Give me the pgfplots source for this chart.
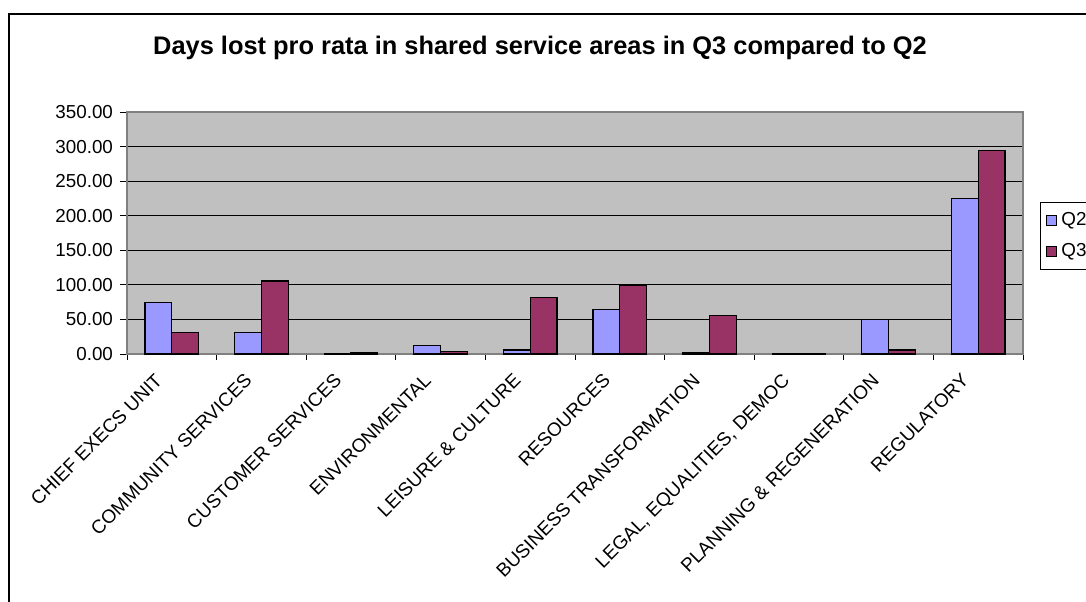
\documentclass[border=0pt]{standalone}
\usepackage{fontspec}
\setmainfont{Liberation Sans}
\usepackage{pgfplots}
\pgfplotsset{compat=1.18}
\definecolor{qtwo}{HTML}{9999FF}
\definecolor{qthree}{HTML}{993366}
\definecolor{plotbg}{HTML}{C0C0C0}
\definecolor{frameg}{HTML}{808080}
\begin{document}
\begin{tikzpicture}
\useasboundingbox (0pt,0pt) rectangle (543pt,300.5pt);
\clip (0pt,0pt) rectangle (543pt,300.5pt);
\draw[line width=0.8pt] (4.5pt,-5pt) -- (4.5pt,293.5pt) -- (560pt,293.5pt);
\node[font=\bfseries\fontsize{12.7}{14}\selectfont] at (270pt,276.5pt) {Days lost pro rata in shared service areas in Q3 compared to Q2};
\begin{axis}[
  at={(63.5pt,123.5pt)}, anchor=south west,
  scale only axis, width=448pt, height=121pt,
  xmin=-0.5, xmax=9.5, ymin=0, ymax=350,
  enlargelimits=false,
  ytick={0,50,...,350},
  xtick={0,...,9},
  xticklabels={CHIEF EXECS UNIT, COMMUNITY SERVICES, CUSTOMER SERVICES, ENVIRONMENTAL, LEISURE \& CULTURE, RESOURCES, BUSINESS TRANSFORMATION, {LEGAL, EQUALITIES, DEMOC}, PLANNING \& REGENERATION, REGULATORY},
  minor xtick={-0.5,0.5,...,9.5},
  major x tick style={draw=none},
  minor tick length=3pt, major tick length=3.5pt,
  tick align=outside, tick pos=left,
  tick style={black, line width=0.5pt},
  axis background/.style={fill=plotbg},
  axis line style={draw=frameg, line width=0.6pt},
  ymajorgrids, major grid style={black, line width=0.5pt},
  yticklabel style={font=\fontsize{9.4}{10}\selectfont, /pgf/number format/.cd, fixed, fixed zerofill, precision=2, assume math mode=true},
  xticklabel style={font=\fontsize{9.5}{10}\selectfont, rotate=45, anchor=north east, inner sep=0pt, xshift=-10.2pt, yshift=2.4pt},
  legend style={at={(1.019,0.628)}, anchor=north west, draw=black, fill=white, font=\fontsize{9.4}{10}\selectfont, row sep=3.5pt, inner sep=3pt},
  legend cell align=left,
]
\addplot[ybar, bar width=0.3, bar shift=-0.15, fill=qtwo, draw=black, line width=0.6pt,
  legend image code/.code={\draw[fill=qtwo, draw=black, line width=0.5pt] (0pt,-2.5pt) rectangle (5pt,2.5pt);}]
  coordinates {(0,75) (1,31.5) (2,0) (3,12.5) (4,5.8) (5,64.6) (6,1.5) (7,0) (8,49.7) (9,224.9)};
\addlegendentry{Q2}
\addplot[ybar, bar width=0.3, bar shift=0.15, fill=qthree, draw=black, line width=0.6pt,
  legend image code/.code={\draw[fill=qthree, draw=black, line width=0.5pt] (0pt,-2.5pt) rectangle (5pt,2.5pt);}]
  coordinates {(0,31.4) (1,105.6) (2,2) (3,3.8) (4,81.5) (5,98.9) (6,55.5) (7,0) (8,5.8) (9,294.3)};
\addlegendentry{Q3}
\end{axis}
\end{tikzpicture}
\end{document}
